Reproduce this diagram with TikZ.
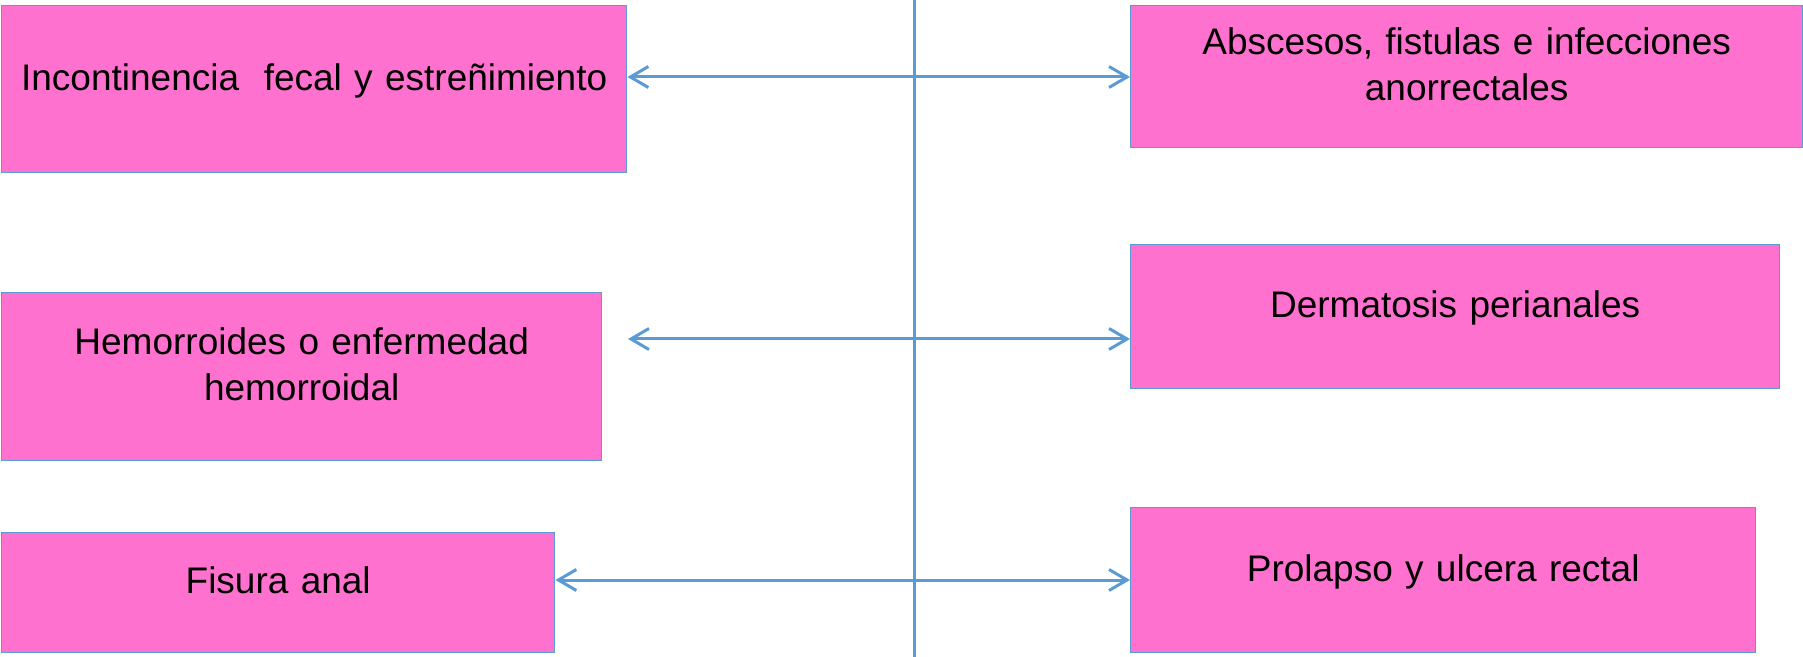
\documentclass[tikz,border=0pt]{standalone}
\usepackage{fontspec}
\setmainfont{Liberation Sans}
\usetikzlibrary{arrows.meta}

\definecolor{boxPink}{RGB}{255,113,206}
\definecolor{lineBlue}{RGB}{91,155,213}

\def \spineX {914}

\begin{document}
\begin{tikzpicture}[x=0.5pt, y=-0.5pt,
    disorder/.style={draw=lineBlue, line width=0.7pt, fill=boxPink, anchor=north west,
      inner sep=0pt, align=center, font=\fontsize{18.5pt}{23pt}\selectfont},
    link/.style={lineBlue, line width=1.5pt,
      {Straight Barb[length=9pt,width=10.5pt]}-{Straight Barb[length=9pt,width=10.5pt]}},
    spine/.style={lineBlue, line width=1.5pt}]
  \useasboundingbox (0,0) rectangle (1803,657);

  % left column
  \node[disorder, text width=312.5pt, text height=42.5pt, text depth=41pt] (fecal) at (1,5)
    {Incontinencia~ fecal y estreñimiento};
  \node[disorder, text width=300pt, text height=31pt, text depth=53pt] (hemorroides) at (1,292)
    {Hemorroides o enfermedad\\hemorroidal};
  \node[disorder, text width=276.5pt, text height=30.5pt, text depth=29.5pt] (fisura) at (1,532)
    {Fisura anal};

  % right column
  \node[disorder, text width=336pt, text height=24.5pt, text depth=46.5pt] (abscesos) at (1130,5)
    {Abscesos, fistulas e infecciones\\anorrectales};
  \node[disorder, text width=324.5pt, text height=36.5pt, text depth=35.5pt] (dermatosis) at (1130,244)
    {Dermatosis perianales};
  \node[disorder, text width=312.5pt, text height=37pt, text depth=35.5pt] (prolapso) at (1130,507)
    {Prolapso y ulcera rectal};

  % central line
  \coordinate (spineTop) at (\spineX,0);
  \coordinate (spineBottom) at (\spineX,657);
  \draw[spine] (spineTop) -- (spineBottom);

  \coordinate (levelA) at (\spineX,77);
  \coordinate (levelB) at (628,339);
  \coordinate (levelC) at (\spineX,580);
  \draw[link] (fecal.east |- levelA) -- (abscesos.west |- levelA);
  \draw[link] (levelB) -- (dermatosis.west |- levelB);
  \draw[link] (fisura.east |- levelC) -- (prolapso.west |- levelC);
\end{tikzpicture}
\end{document}
